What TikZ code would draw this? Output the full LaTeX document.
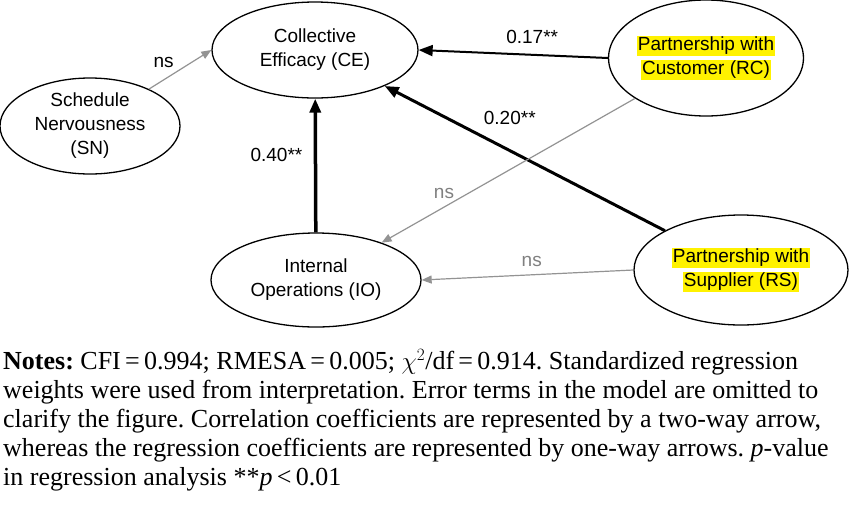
\documentclass[tikz,border=0pt]{standalone}
\usepackage{fontspec}
\setmainfont{Liberation Serif}
\setsansfont{Liberation Sans}
\usetikzlibrary{arrows.meta,shapes.geometric}
\setlength{\fboxsep}{0.8pt}
\newcommand{\hl}[1]{\colorbox{yellow}{#1}}
\frenchspacing

\begin{document}
\begin{tikzpicture}[x=1pt,y=-1pt,
    latent/.style={ellipse,draw,line width=1.3pt,inner sep=0pt,align=center,font=\sffamily\fontsize{19}{24}\selectfont},
    sig/.style={-{Triangle[length=14pt,width=11pt]},black},
    nsig/.style={-{Triangle[length=10pt,width=8pt]},gray!85,line width=1.2pt},
    coef/.style={font=\sffamily\fontsize{19}{23}\selectfont,inner sep=0pt},
    notes/.style={font=\fontsize{26}{29}\selectfont,align=left,inner sep=0pt}]

  \useasboundingbox (0,0) rectangle (850,507);

  \node[latent,minimum width=206pt,minimum height=96pt] (ce) at (315,50) {Collective\\Efficacy (CE)};
  \node[latent,minimum width=180pt,minimum height=96pt] (sn) at (90,126) {Schedule\\Nervousness\\(SN)};
  \node[latent,minimum width=210pt,minimum height=94pt] (io) at (316,280) {Internal\\Operations (IO)};
  \node[latent,minimum width=194pt,minimum height=116pt] (rc) at (706,58) {\hl{Partnership with}\\\hl{Customer (RC)}};
  \node[latent,minimum width=214pt,minimum height=110pt] (rs) at (741,270) {\hl{Partnership with}\\\hl{Supplier (RS)}};

  % regression paths
  \draw[nsig] (sn) -- (ce.west)
    node[coef,pos=0.3,xshift=-4pt,yshift=15pt,text=black] {ns};
  \draw[sig,line width=2pt] (rc.west) -- (ce.east)
    node[coef,pos=0.4,yshift=18pt] {0.17**};
  \draw[sig,line width=3pt] (rs) -- (ce)
    node[coef,pos=0.6,xshift=13pt,yshift=26pt] {0.20**};
  \draw[sig,line width=3.5pt] (io) -- (ce)
    node[coef,pos=0.58,xshift=-39pt] {0.40**};
  \draw[nsig] (rc) -- (io)
    node[coef,pos=0.73,xshift=-6pt,yshift=10pt,text=gray] {ns};
  \draw[nsig] (rs.west) -- (io.east)
    node[coef,pos=0.48,yshift=13pt,text=gray] {ns};

  \node[notes,anchor=north west] (notes) at (3,349) {\textbf{Notes:} CFI\,=\,0.994; RMESA\,=\,0.005; $\chi^2$/df\,=\,0.914. Standardized regression\\
    weights were used from interpretation. Error terms in the model are omitted to\\
    clarify the figure. Correlation coefficients are represented by a two-way arrow,\\
    whereas the regression coefficients are represented by one-way arrows. \textit{p}-value\\
    in regression analysis **\textit{p}\,<\,0.01};

\end{tikzpicture}
\end{document}
